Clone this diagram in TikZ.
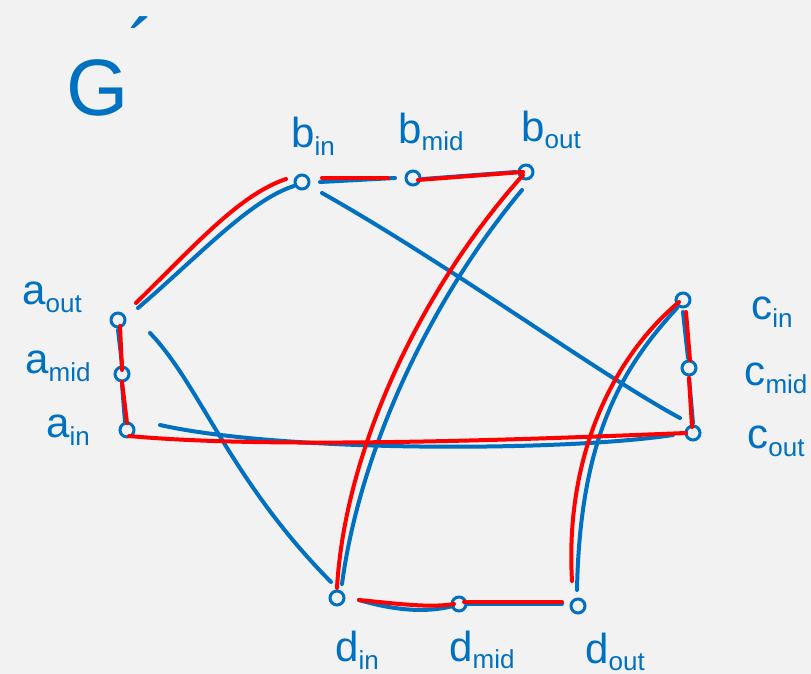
\documentclass[tikz,border=0pt]{standalone}
\usepackage{fontspec}
\setmainfont{Liberation Sans}
\definecolor{blu}{HTML}{0070C0}
\definecolor{rd}{HTML}{FF0000}
\definecolor{bg}{HTML}{F2F2F2}
\newcommand{\lbl}[2]{#1\raisebox{-0.35ex}{\fontsize{13}{15}\selectfont #2}}
\begin{document}
\begin{tikzpicture}[x=0.5pt,y=-0.5pt,
  vtx/.style={circle, draw=blu, line width=1.5pt, minimum size=7pt, inner sep=0pt},
  bl/.style={draw=blu, line width=2pt, line cap=round},
  rl/.style={draw=rd, line width=2pt, line cap=round},
  lab/.style={text=blu, font=\fontsize{21}{24}\selectfont, inner sep=0pt}]
\fill[bg] (0,0) rectangle (811,674);
\useasboundingbox (0,0) rectangle (811,674);
% vertices
\node[vtx] (bin)  at (302,182) {};
\node[vtx] (bmid) at (413,178) {};
\node[vtx] (bout) at (526,172) {};
\node[vtx] (aout) at (118,320) {};
\node[vtx] (amid) at (122,374) {};
\node[vtx] (ain)  at (127,430) {};
\node[vtx] (cin)  at (683,300) {};
\node[vtx] (cmid) at (689,368) {};
\node[vtx] (cout) at (693,433) {};
\node[vtx] (din)  at (337,598) {};
\node[vtx] (dmid) at (459,604) {};
\node[vtx] (dout) at (578,606) {};
% labels
\node[lab, font=\fontsize{40}{44}\selectfont, anchor=base west] (G) at (66,116) {G\raisebox{0.5em}{´}};
\node[lab] (Laout) at (52,297) {\lbl{a}{out}};
\node[lab] (Lamid) at (58,366) {\lbl{a}{mid}};
\node[lab] (Lain)  at (68,430) {\lbl{a}{in}};
\node[lab] (Lbin)  at (313,136) {\lbl{b}{in}};
\node[lab] (Lbmid) at (431,132) {\lbl{b}{mid}};
\node[lab] (Lbout) at (551,130) {\lbl{b}{out}};
\node[lab] (Lcin)  at (772,312) {\lbl{c}{in}};
\node[lab] (Lcmid) at (776,378) {\lbl{c}{mid}};
\node[lab] (Lcout) at (776,441) {\lbl{c}{out}};
\node[lab] (Ldin)  at (357,650) {\lbl{d}{in}};
\node[lab] (Ldmid) at (482,650) {\lbl{d}{mid}};
\node[lab] (Ldout) at (615,652) {\lbl{d}{out}};
% blue edges
\draw[bl] ([shift={(20,-12)}]aout.center) .. controls (200,255) and (250,200) .. ([shift={(-8,4)}]bin.center);
\draw[bl] ([shift={(18,0)}]bin.center) -- ([shift={(-18,0)}]bmid.center);
\draw[bl] ([shift={(10,1)}]bmid.center) -- ([shift={(-10,0)}]bout.center);
\draw[bl] ([shift={(0,10)}]aout.center) -- ([shift={(0,-10)}]amid.center);
\draw[bl] ([shift={(0,10)}]amid.center) -- ([shift={(-2,-8)}]ain.center);
\draw[bl] ([shift={(0,12)}]cin.center) -- ([shift={(-1,-10)}]cmid.center);
\draw[bl] ([shift={(0,10)}]cmid.center) -- ([shift={(0,-10)}]cout.center);
\draw[bl] ([shift={(22,2)}]din.center) .. controls (400,612) and (430,612) .. ([shift={(-6,2)}]dmid.center);
\draw[bl] ([shift={(8,0)}]dmid.center) -- ([shift={(-16,-2)}]dout.center);
\draw[bl] ([shift={(20,11)}]bin.center) .. controls (450,265) and (600,375) .. ([shift={(-13,-15)}]cout.center);
\draw[bl] ([shift={(32,13)}]aout.center) .. controls (200,385) and (230,480) .. ([shift={(-6,-16)}]din.center);
\draw[bl] ([shift={(-4,18)}]bout.center) .. controls (430,300) and (360,450) .. ([shift={(5,-14)}]din.center);
\draw[bl] ([shift={(33,-5)}]ain.center) .. controls (280,452) and (560,452) .. ([shift={(-20,2)}]cout.center);
\draw[bl] ([shift={(-6,8)}]cin.center) .. controls (620,370) and (580,440) .. ([shift={(-1,-16)}]dout.center);
% red edges
\draw[rl] ([shift={(18,-17)}]aout.center) .. controls (200,240) and (240,195) .. ([shift={(-16,-3)}]bin.center);
\draw[rl] ([shift={(20,-4)}]bin.center) -- ([shift={(-25,0)}]bmid.center);
\draw[rl] ([shift={(5,2)}]bmid.center) -- ([shift={(-3,0)}]bout.center);
\draw[rl] ([shift={(-3,3)}]bout.center) .. controls (420,290) and (345,450) .. ([shift={(0,-10)}]din.center);
\draw[rl] ([shift={(22,2)}]din.center) .. controls (400,604) and (430,608) .. ([shift={(-5,0)}]dmid.center);
\draw[rl] ([shift={(5,-2)}]dmid.center) -- ([shift={(-16,-4)}]dout.center);
\draw[rl] ([shift={(-6,-25)}]dout.center) .. controls (565,460) and (610,360) .. ([shift={(-4,2)}]cin.center);
\draw[rl] ([shift={(3,12)}]cin.center) -- ([shift={(1,-8)}]cmid.center);
\draw[rl] ([shift={(0,10)}]cmid.center) -- ([shift={(-1,-6)}]cout.center);
\draw[rl] ([shift={(-7,0)}]cout.center) .. controls (560,438) and (280,450) .. ([shift={(2,6)}]ain.center);
\draw[rl] ([shift={(0,-7)}]ain.center) -- ([shift={(0,8)}]amid.center);
\draw[rl] ([shift={(0,-4)}]amid.center) -- ([shift={(2,6)}]aout.center);
\end{tikzpicture}
\end{document}
